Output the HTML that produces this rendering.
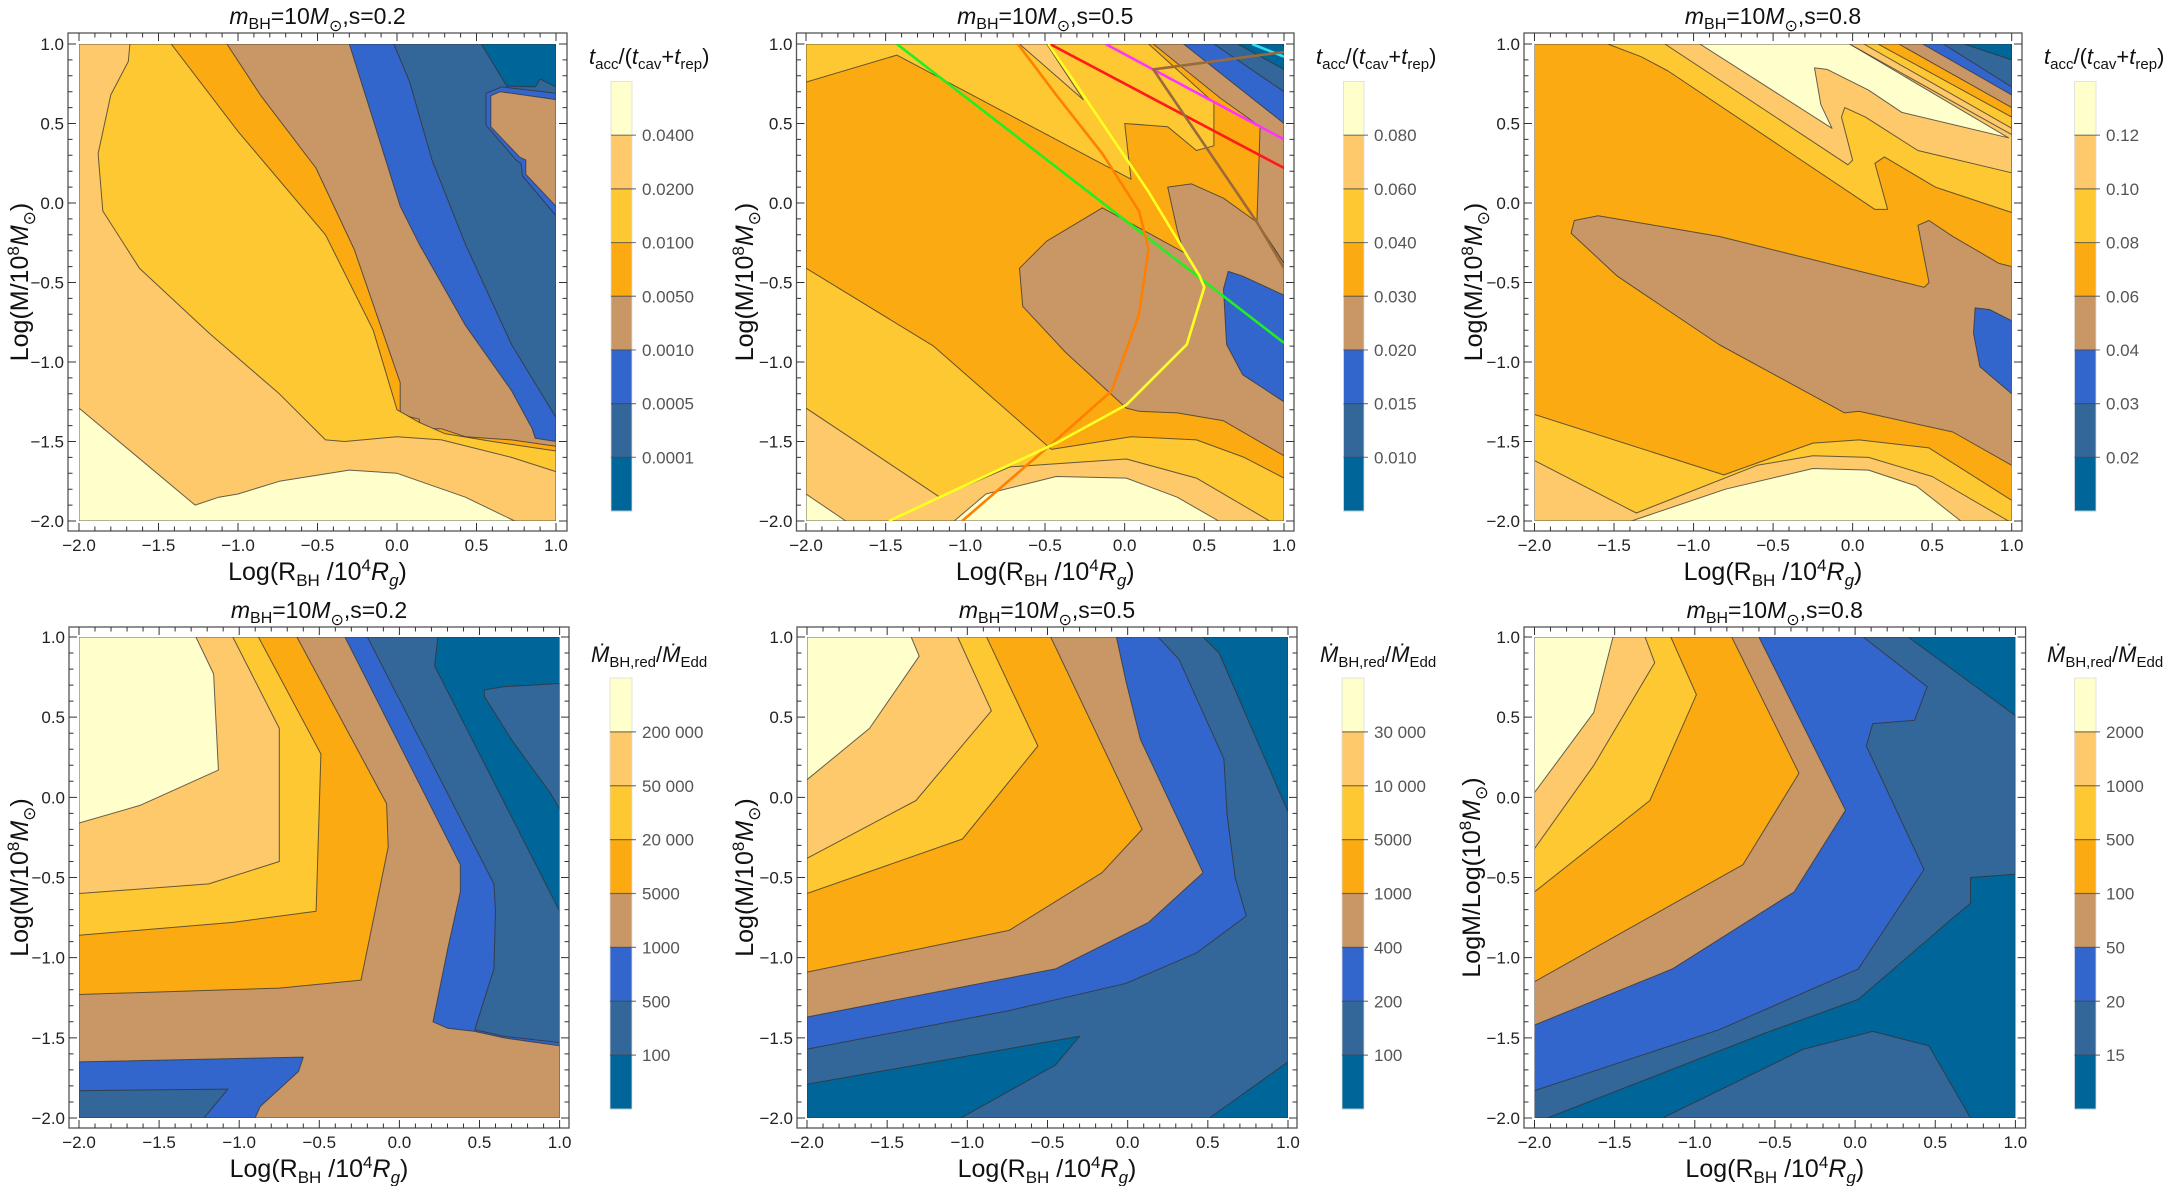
<!DOCTYPE html>
<html><head><meta charset="utf-8">
<style>
html,body{margin:0;padding:0;background:#fff;}
svg{display:block;font-family:"Liberation Sans",Arial,sans-serif;}
</style></head>
<body>
<svg id="fig" width="2170" height="1186" viewBox="0 0 2170 1186" xmlns="http://www.w3.org/2000/svg"></svg>
<script>
// ---------- data ----------
const bandColors = ['#ffffcc','#fdc96a','#fdc832','#fcaa12','#c99766','#3366cc','#336699','#006699'];
const xTicks = [-2.0,-1.5,-1.0,-0.5,0.0,0.5,1.0];
const yTicks = [1.0,0.5,0.0,-0.5,-1.0,-1.5,-2.0];
const FULL = [[-2,1],[1,1],[1,-2],[-2,-2]];

const cb1Labels = ['0.0400','0.0200','0.0100','0.0050','0.0010','0.0005','0.0001'];
const cb2Labels = ['0.080','0.060','0.040','0.030','0.020','0.015','0.010'];
const cb3Labels = ['0.12','0.10','0.08','0.06','0.04','0.03','0.02'];
const cb4Labels = ['200 000','50 000','20 000','5000','1000','500','100'];
const cb5Labels = ['30 000','10 000','5000','1000','400','200','100'];
const cb6Labels = ['2000','1000','500','100','50','20','15'];

const p1Layers = [
 [6, FULL],
 [7, [[0.53,1],[1,1],[1,0.73],[0.9,0.78],[0.87,0.73],[0.69,0.735]]],
 [5, [[0.56,0.69],[0.66,0.73],[1,0.69],[1,-0.08],[0.79,0.17],[0.78,0.25],[0.75,0.27],[0.56,0.49]]],
 [4, [[0.59,0.675],[0.65,0.70],[1,0.65],[1,-0.02],[0.81,0.18],[0.81,0.27],[0.77,0.29],[0.59,0.48]]],
 [5, [[-2,1],[-0.02,1],[0.08,0.76],[0.22,0.27],[0.43,-0.26],[0.72,-0.89],[1,-1.35],[1,-2],[-2,-2]]],
 [4, [[-2,1],[-0.3,1],[-0.19,0.65],[0.02,-0.02],[0.14,-0.26],[0.43,-0.77],[0.72,-1.18],[0.85,-1.42],[0.87,-1.48],[1,-1.5],[1,-2],[-2,-2]]],
 [3, [[-2,1],[-1.07,1],[-0.86,0.68],[-0.51,0.22],[-0.27,-0.29],[0.02,-1.13],[0.02,-1.33],[0.14,-1.36],[0.14,-1.42],[0.28,-1.42],[0.43,-1.47],[0.72,-1.49],[1,-1.53],[1,-2],[-2,-2]]],
 [2, [[-2,1],[-1.42,1],[-1.0,0.45],[-0.45,-0.2],[-0.15,-0.8],[0.0,-1.3],[0.14,-1.38],[0.3,-1.45],[0.6,-1.5],[1,-1.56],[1,-2],[-2,-2]]],
 [1, [[-2,1],[-1.68,1],[-1.69,0.89],[-1.8,0.68],[-1.88,0.31],[-1.85,-0.05],[-1.62,-0.41],[-1.18,-0.82],[-0.74,-1.2],[-0.45,-1.49],[-0.33,-1.5],[0,-1.47],[0.28,-1.49],[0.72,-1.6],[1,-1.69],[1,-2],[-2,-2]]],
 [0, [[-2,-1.29],[-1.27,-1.9],[-1.12,-1.85],[-1.0,-1.83],[-0.74,-1.75],[-0.3,-1.68],[0,-1.7],[0.43,-1.85],[0.74,-2],[-2,-2]]]
];
const p2Layers = [
 [3, FULL],
 [2, [[-2,1],[0.15,1],[0.56,0.63],[0.56,0.36],[0.45,0.33],[0.27,0.48],[0.0,0.5],[0.04,0.15],[-1.43,0.93],[-2,0.76]]],
 [1, [[-0.66,1],[-0.49,1],[-0.26,0.65]]],
 [4, [[0.18,1],[1,1],[1,-0.38],[0.83,-0.12],[0.85,0.48],[0.6,0.66]]],
 [5, [[0.37,1],[1,1],[1,0.5]]],
 [6, [[0.56,1],[1,1],[1,0.7]]],
 [7, [[0.71,1],[1,1],[1,0.84]]],
 [4, [[-0.14,-0.03],[0.37,-0.31],[0.33,-0.17],[0.27,0.1],[0.42,0.12],[0.62,0.03],[0.83,-0.12],[1,-0.38],[1,-1.59],[0.62,-1.37],[0.33,-1.32],[0.09,-1.31],[0.01,-1.29],[-0.37,-0.94],[-0.64,-0.65],[-0.66,-0.41],[-0.49,-0.24]]],
 [5, [[0.65,-0.43],[0.74,-0.46],[1,-0.58],[1,-1.25],[0.74,-1.08],[0.64,-0.89],[0.62,-0.54]]],
 [2, [[-2,-0.41],[-1.2,-0.9],[-0.46,-1.55],[0.04,-1.47],[0.45,-1.49],[0.75,-1.6],[1,-1.73],[1,-2],[-2,-2]]],
 [1, [[-2,-1.29],[-1.16,-1.85],[-0.72,-1.66],[0.01,-1.61],[0.45,-1.73],[0.91,-2],[-2,-2]]],
 [0, [[-2,-1.83],[-1.75,-2],[-2,-2]]],
 [0, [[-1.07,-2],[-0.87,-1.83],[-0.43,-1.72],[0.01,-1.73],[0.33,-1.85],[0.59,-2]]]
];
const p2GreenLine = [[-1.43,1],[1,-0.88]];
const p2RedLine = [[-0.47,1],[1,0.22]];
const p2MagentaLine = [[-0.12,1],[1,0.4]];
const p2CyanLine = [[0.8,1],[1,0.92]];
const p2BrownLine = [[1,0.95],[0.18,0.84],[0.83,-0.12],[1,-0.41]];
const p2OrangeCurve = [[-1.02,-2],[-0.43,-1.49],[-0.08,-1.18],[0.09,-0.7],[0.15,-0.29],[0.09,-0.05],[-0.14,0.31],[-0.43,0.68],[-0.67,1]];
const p2YellowCurve = [[-1.48,-2],[-1.16,-1.85],[-0.43,-1.51],[0.01,-1.27],[0.39,-0.89],[0.5,-0.53],[0.47,-0.46],[0.15,0.07],[-0.26,0.68],[-0.48,1]];

const p3Layers = [
 [3, FULL],
 [2, [[-1.54,1],[-1.33,0.92],[-1.16,0.83],[0.14,-0.04],[0.22,-0.04],[0.14,0.25],[0.2,0.29],[0.52,0.1],[1,-0.06],[1,1]]],
 [1, [[-1.18,1],[-0.03,0.24],[0.0,0.27],[-0.07,0.54],[-0.05,0.6],[0.08,0.54],[0.41,0.33],[1,0.19],[1,1]]],
 [0, [[-0.96,1],[-0.13,0.47],[-0.2,0.62],[-0.24,0.85],[-0.16,0.84],[0.1,0.71],[0.31,0.57],[0.98,0.41],[-0.02,1]]],
 [1, [[-0.02,1],[1,1],[1,0.43]]],
 [2, [[0.07,1],[1,1],[1,0.47]]],
 [3, [[0.16,1],[1,1],[1,0.54]]],
 [4, [[0.29,1],[1,1],[1,0.6]]],
 [5, [[0.44,1],[1,1],[1,0.68]]],
 [6, [[0.57,1],[1,1],[1,0.73]]],
 [7, [[0.70,1],[1,1],[1,0.9]]],
 [4, [[-1.75,-0.11],[-1.6,-0.08],[-0.84,-0.21],[0.45,-0.53],[0.48,-0.5],[0.41,-0.14],[0.48,-0.11],[0.63,-0.21],[0.92,-0.38],[1,-0.4],[1,-1.65],[0.63,-1.44],[0.04,-1.31],[-0.05,-1.32],[-0.84,-0.89],[-1.48,-0.46],[-1.77,-0.19]]],
 [5, [[0.77,-0.66],[0.86,-0.67],[1,-0.74],[1,-1.2],[0.8,-1.03],[0.76,-0.82]]],
 [2, [[-2,-1.33],[-0.81,-1.71],[-0.25,-1.51],[0.04,-1.49],[0.48,-1.54],[1,-1.87],[1,-2],[-2,-2]]],
 [1, [[-2,-1.62],[-1.36,-1.95],[-0.6,-1.65],[-0.25,-1.59],[0.1,-1.6],[0.5,-1.72],[0.98,-2],[-2,-2]]],
 [0, [[-1.39,-2],[-0.8,-1.8],[-0.25,-1.67],[0.1,-1.68],[0.4,-1.78],[0.68,-2]]]
];
const p4Layers = [
 [7, FULL],
 [6, [[-2,1],[0.24,1],[0.22,0.82],[1,-0.71],[1,-2],[-2,-2]]],
 [6, [[0.53,0.67],[0.65,0.69],[1,0.71],[1,-0.07],[0.94,0.03],[0.7,0.36],[0.53,0.63]]],
 [5, [[-2,1],[-0.2,1],[0.59,-0.54],[0.6,-0.71],[0.59,-1.07],[0.47,-1.45],[0.65,-1.49],[1,-1.53],[1,-2],[-2,-2]]],
 [4, [[-2,1],[-0.34,1],[0.38,-0.42],[0.38,-0.59],[0.3,-0.95],[0.21,-1.4],[0.3,-1.44],[0.47,-1.46],[0.65,-1.5],[1,-1.55],[1,-2],[-2,-2]]],
 [5, [[-2,-1.65],[-0.6,-1.62],[-0.63,-1.71],[-0.87,-1.93],[-0.9,-2],[-2,-2]]],
 [6, [[-2,-1.83],[-1.07,-1.82],[-1.22,-2],[-2,-2]]],
 [3, [[-2,1],[-0.64,1],[-0.08,-0.04],[-0.07,-0.31],[-0.24,-1.14],[-0.75,-1.19],[-2,-1.23]]],
 [2, [[-2,1],[-0.88,1],[-0.49,0.27],[-0.52,-0.71],[-1.04,-0.78],[-2,-0.86]]],
 [1, [[-2,1],[-1.04,1],[-0.75,0.43],[-0.75,-0.4],[-1.19,-0.54],[-2,-0.6]]],
 [0, [[-2,1],[-1.27,1],[-1.16,0.77],[-1.13,0.17],[-1.62,-0.05],[-2,-0.16]]]
];
const p5Layers = [
 [7, FULL],
 [6, [[-2,1],[0.47,1],[0.57,0.9],[1,-0.09],[1,-1.65],[0.51,-2],[-2,-2]]],
 [7, [[-2,-1.79],[-0.3,-1.49],[-0.45,-1.67],[-1.04,-2],[-2,-2]]],
 [5, [[-2,1],[0.19,1],[0.32,0.86],[0.6,0.24],[0.62,-0.11],[0.67,-0.5],[0.74,-0.74],[0.43,-0.97],[-0.01,-1.16],[-0.74,-1.33],[-2,-1.57]]],
 [4, [[-2,1],[-0.07,1],[-0.01,0.72],[0.08,0.36],[0.47,-0.47],[0.13,-0.78],[-0.45,-1.07],[-2,-1.37]]],
 [3, [[-2,1],[-0.48,1],[0.09,-0.2],[-0.16,-0.47],[-0.74,-0.83],[-2,-1.09]]],
 [2, [[-2,1],[-0.88,1],[-0.56,0.32],[-1.03,-0.26],[-2,-0.6]]],
 [1, [[-2,1],[-1.06,1],[-0.85,0.54],[-1.32,-0.02],[-2,-0.38]]],
 [0, [[-2,1],[-1.35,1],[-1.3,0.88],[-1.61,0.43],[-2,0.11]]]
];
const p6Layers = [
 [7, FULL],
 [6, [[-2,1],[0.33,1],[1,0.51],[1,-0.48],[0.72,-0.5],[0.72,-0.66],[0.6,-0.76],[0.02,-1.26],[-0.56,-1.47],[-1.92,-2],[-2,-2]]],
 [6, [[-1.2,-2],[-0.32,-1.57],[0.11,-1.46],[0.46,-1.55],[0.72,-2]]],
 [5, [[-2,1],[0.05,1],[0.45,0.69],[0.37,0.48],[0.11,0.46],[0.07,0.32],[0.43,-0.45],[0.02,-1.07],[-0.85,-1.45],[-2,-1.83]]],
 [4, [[-2,1],[-0.6,1],[-0.06,-0.08],[-0.38,-0.59],[-1.14,-1.07],[-2,-1.42]]],
 [3, [[-2,1],[-0.77,1],[-0.35,0.15],[-0.7,-0.42],[-2,-1.15]]],
 [2, [[-2,1],[-1.15,1],[-0.99,0.64],[-1.28,-0.02],[-2,-0.59]]],
 [1, [[-2,1],[-1.31,1],[-1.25,0.84],[-1.63,0.2],[-2,-0.32]]],
 [0, [[-2,1],[-1.51,1],[-1.63,0.53],[-2,0.03]]]
];

// ---------- layout (positions only) ----------
const panels = [
 {id:'p1', layers:p1Layers, cb:cb1Labels, s:'0.2', top:true,  px:[79,556], py:[44,521], fx:[68,567], fy:[33,531], cbx:[611,632], cby:[81.5,511], ttlX:589, yTitleX:20, yTitle:'ratio'},
 {id:'p2', layers:p2Layers, cb:cb2Labels, s:'0.5', top:true,  px:[806,1284], py:[44,521], fx:[796.5,1294], fy:[33,531], cbx:[1343.5,1364], cby:[81.5,511], ttlX:1316, yTitleX:745, yTitle:'ratio'},
 {id:'p3', layers:p3Layers, cb:cb3Labels, s:'0.8', top:true,  px:[1534.5,2011.7], py:[44,521], fx:[1524,2022], fy:[33,531], cbx:[2074.5,2096], cby:[81.5,511], ttlX:2044, yTitleX:1474, yTitle:'ratio'},
 {id:'p4', layers:p4Layers, cb:cb4Labels, s:'0.2', top:false, px:[79,559.6], py:[637,1118], fx:[69,569], fy:[627,1128], cbx:[610,632], cby:[678,1109], ttlX:591, yTitleX:20, yTitle:'mdot'},
 {id:'p5', layers:p5Layers, cb:cb5Labels, s:'0.5', top:false, px:[807,1288], py:[637,1118], fx:[797,1297], fy:[627,1128], cbx:[1342,1364], cby:[678,1109], ttlX:1320, yTitleX:745, yTitle:'mdot'},
 {id:'p6', layers:p6Layers, cb:cb6Labels, s:'0.8', top:false, px:[1534.5,2015.4], py:[637,1118], fx:[1524,2025.6], fy:[627,1128], cbx:[2074.5,2096], cby:[678,1109], ttlX:2047, yTitleX:1472, yTitle:'mdot', alt:true}
];

const NS = 'http://www.w3.org/2000/svg';
const svg = document.getElementById('fig');
function el(tag, attrs, parent){
  const e = document.createElementNS(NS, tag);
  for (const k in attrs) e.setAttribute(k, attrs[k]);
  (parent||svg).appendChild(e);
  return e;
}
const defs = el('defs', {});
function fmt(v){ return (v<0?'\u2212':'') + Math.abs(v).toFixed(1); }

panels.forEach((p, pi) => {
  const sx = v => p.px[0] + (v + 2) / 3 * (p.px[1] - p.px[0]);
  const sy = v => p.py[0] + (1 - v) / 3 * (p.py[1] - p.py[0]);
  const g = el('g', {});
  
  

  const cp = el('clipPath', {id:'clip-' + p.id}, defs);
  el('rect', {x:p.px[0], y:p.py[0], width:p.px[1]-p.px[0], height:p.py[1]-p.py[0]}, cp);

  const plot = el('g', {'clip-path':'url(#clip-' + p.id + ')'}, g);
  
  
  p.layers.forEach((L, li) => {
    const pts = L[1].map(q => sx(q[0]).toFixed(1) + ',' + sy(q[1]).toFixed(1)).join(' ');
    const poly = el('polygon', {points:pts, fill:bandColors[L[0]], stroke:'rgba(50,50,50,0.75)', 'stroke-width':1, 'stroke-linejoin':'round'}, plot);
    
    
  });

  if (p.id === 'p2') {
    const lines = [[p2GreenLine,'#22ee22'],[p2RedLine,'#ff1a1a'],[p2MagentaLine,'#ff33ff'],[p2CyanLine,'#33ddee'],[p2BrownLine,'#9a6a3a'],[p2OrangeCurve,'#ff8000'],[p2YellowCurve,'#ffff22']];
    const lineNames = ['green-line','red-line','magenta-line','cyan-line','brown-line','orange-curve','yellow-curve'];
    lines.forEach((ln, i) => {
      const pts = ln[0].map(q => sx(q[0]).toFixed(1) + ',' + sy(q[1]).toFixed(1)).join(' ');
      const pl = el('polyline', {points:pts, fill:'none', stroke:ln[1], 'stroke-width':2.6, 'stroke-linejoin':'round'}, plot);
      
      
    });
  }

  // frame
  const fr = el('rect', {x:p.fx[0], y:p.fy[0], width:p.fx[1]-p.fx[0], height:p.fy[1]-p.fy[0], fill:'none', stroke:'#555', 'stroke-width':1.3}, g);
  
  

  // ticks
  let tk = '';
  for (let i = 0; i <= 30; i++) {
    const v = -2 + i * 0.1;
    const major = (i % 5 === 0);
    const len = major ? 8 : 4.5;
    const X = sx(v), Y = sy(v);
    tk += `M${X},${p.fy[1]}v${-len}M${X},${p.fy[0]}v${len}`;
    tk += `M${p.fx[0]},${Y}h${len}M${p.fx[1]},${Y}h${-len}`;
  }
  const tp = el('path', {d:tk, stroke:'#333', 'stroke-width':1, fill:'none'}, g);
  
  

  xTicks.forEach(v => {
    const t = el('text', {x:sx(v), y:p.fy[1]+20, 'font-size':17, 'text-anchor':'middle', fill:'#222'}, g);
    t.textContent = fmt(v);
    
    
  });
  yTicks.forEach(v => {
    const t = el('text', {x:p.fx[0]-4, y:sy(v)+6, 'font-size':17, 'text-anchor':'end', fill:'#222'}, g);
    t.textContent = fmt(v);
    
    
  });

  // titles
  const cx = (p.fx[0] + p.fx[1]) / 2;
  const tt = el('text', {x:cx, y:p.fy[0]-9, 'font-size':23, 'text-anchor':'middle', fill:'#111'}, g);
  
  
  tt.innerHTML = '<tspan font-style="italic">m</tspan><tspan font-size="16" dy="5">BH</tspan><tspan dy="-5">=10</tspan><tspan font-style="italic">M</tspan><tspan font-size="16" dy="7">\u2299</tspan><tspan dy="-7">,s=' + p.s + '</tspan>';

  const xt = el('text', {x:cx, y:p.fy[1]+49, 'font-size':25, 'text-anchor':'middle', fill:'#111'}, g);
  
  
  xt.innerHTML = 'Log(R<tspan font-size="17" dy="6">BH</tspan><tspan dy="-6"> /10</tspan><tspan font-size="17" dy="-9">4</tspan><tspan dy="9" font-style="italic">R</tspan><tspan font-size="17" dy="6" font-style="italic">g</tspan><tspan dy="-6">)</tspan>';

  const cyy = (p.fy[0] + p.fy[1]) / 2;
  const yt = el('text', {x:0, y:0, 'font-size':25, 'text-anchor':'middle', fill:'#111', transform:`translate(${p.yTitleX+8},${cyy}) rotate(-90)`}, g);
  
  
  if (p.alt) {
    yt.innerHTML = 'LogM/Log(10<tspan font-size="17" dy="-9">8</tspan><tspan dy="9" font-style="italic">M</tspan><tspan font-size="17" dy="7">\u2299</tspan><tspan dy="-7">)</tspan>';
  } else {
    yt.innerHTML = 'Log(M/10<tspan font-size="17" dy="-9">8</tspan><tspan dy="9" font-style="italic">M</tspan><tspan font-size="17" dy="7">\u2299</tspan><tspan dy="-7">)</tspan>';
  }

  // colorbar
  const cbg = el('g', {}, g);
  
  
  const segH = (p.cby[1] - p.cby[0]) / 8;
  for (let k = 0; k < 8; k++) {
    const r = el('rect', {x:p.cbx[0], y:p.cby[0] + k*segH, width:p.cbx[1]-p.cbx[0], height:segH+0.5, fill:bandColors[k]}, cbg);
    
    
  }
  el('rect', {x:p.cbx[0], y:p.cby[0], width:p.cbx[1]-p.cbx[0], height:p.cby[1]-p.cby[0], fill:'none', stroke:'#ddd', 'stroke-width':0.8}, cbg);
  p.cb.forEach((lab, k) => {
    const Y = p.cby[0] + (k+1)*segH;
    el('line', {x1:p.cbx[0], x2:p.cbx[1]+4, y1:Y, y2:Y, stroke:'rgba(70,70,70,0.7)', 'stroke-width':1.2}, cbg);
    const t = el('text', {x:p.cbx[1]+10, y:Y+6, 'font-size':17, fill:'#555'}, cbg);
    t.textContent = lab;
    
    
  });
  const ct = el('text', {x:p.ttlX, y:(p.top ? 64 : 662), 'font-size':22, fill:'#111'}, g);
  
  
  if (p.yTitle === 'ratio') {
    ct.innerHTML = '<tspan font-style="italic">t</tspan><tspan font-size="15" dy="5">acc</tspan><tspan dy="-5">/(</tspan><tspan font-style="italic">t</tspan><tspan font-size="15" dy="5">cav</tspan><tspan dy="-5">+</tspan><tspan font-style="italic">t</tspan><tspan font-size="15" dy="5">rep</tspan><tspan dy="-5">)</tspan>';
  } else {
    ct.innerHTML = '<tspan font-style="italic">M\u0307</tspan><tspan font-size="15" dy="5">BH,red</tspan><tspan dy="-5">/</tspan><tspan font-style="italic">M\u0307</tspan><tspan font-size="15" dy="5">Edd</tspan>';
  }
});
</script>
</body></html>
